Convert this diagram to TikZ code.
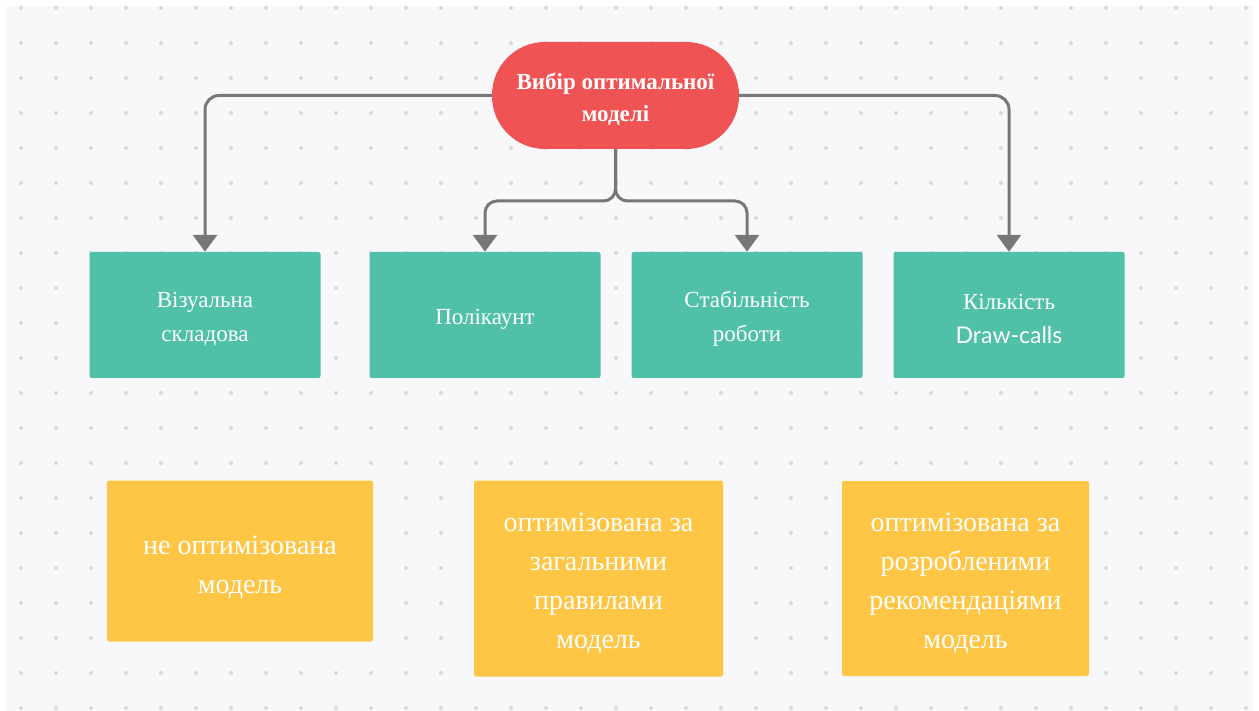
\documentclass[tikz,border=0pt]{standalone}
\usepackage{fontspec}
\setmainfont{Liberation Serif}
\newfontfamily\latofont{Lato}
\usetikzlibrary{arrows.meta}

\definecolor{paper}{HTML}{F8F8FA}
\definecolor{griddot}{HTML}{DADADE}
\definecolor{rootred}{HTML}{F05353}
\definecolor{critgreen}{HTML}{50C0A9}
\definecolor{modelyellow}{HTML}{FFC646}
\definecolor{linkgray}{HTML}{777777}

\begin{document}
\begin{tikzpicture}[
    x=1pt, y=-1pt,
    rootnode/.style={fill=rootred,rounded corners=53pt,minimum width=247pt,minimum height=107pt,inner sep=0pt},
    roottext/.style={text=white,align=center,yshift=-4pt,font=\fontsize{23}{32}\selectfont\bfseries},
    critnode/.style={fill=critgreen,rounded corners=2pt,minimum width=231pt,minimum height=126pt,inner sep=0pt},
    crittext/.style={text=white,align=center,yshift=-4pt,font=\fontsize{23}{34}\selectfont},
    modelnode/.style={fill=modelyellow,rounded corners=2pt,inner sep=0pt},
    modeltext/.style={text=white,align=center,yshift=-5pt,font=\fontsize{28}{39}\selectfont},
    link/.style={draw=linkgray,line width=3pt,rounded corners=14pt,-{Triangle[length=17pt,width=24pt]}}
    ]

    % page and dotted paper
    \fill[white] (0,0) rectangle (1259,711);
    \fill[paper] (6,6) rectangle (1253,711);
    \foreach \gx in {21,56,...,1251}
      \foreach \gy in {8,43,...,710}
        \fill[griddot] (\gx,\gy) circle (2pt);
    \useasboundingbox (0,0) rectangle (1259,711);

    \node[rootnode,label={[roottext]center:{Вибір оптимальної\\моделі}}] (root) at (615.5,95.5) {};

    \node[critnode,label={[crittext]center:{Візуальна\\складова}}] (visual) at (205,315) {};
    \node[critnode,label={[crittext]center:{Полікаунт}}] (poly) at (485,315) {};
    \node[critnode,label={[crittext]center:{Стабільність\\роботи}}] (stable) at (747,315) {};
    \node[critnode,label={[crittext]center:{Кількість\\{\latofont Draw-calls}}}] (calls) at (1009,315) {};

    \node[modelnode,minimum width=266pt,minimum height=161pt,
      label={[modeltext,yshift=-1pt]center:{не оптимізована\\модель}}] (plain) at (240,561) {};
    \node[modelnode,minimum width=249pt,minimum height=196pt,
      label={[modeltext]center:{оптимізована за\\загальними\\правилами\\модель}}] (general) at (598.5,578.5) {};
    \node[modelnode,minimum width=247pt,minimum height=195pt,
      label={[modeltext]center:{оптимізована за\\розробленими\\рекомендаціями\\модель}}] (custom) at (965.5,578.5) {};

    \coordinate (split) at (616,201);

    \draw[link] (root.west) -| (visual.north);
    \draw[link] (root.east) -| (calls.north);
    \draw[link,rounded corners=12pt] (root.south) |- (poly.north |- split) -- (poly.north);
    \draw[link,rounded corners=12pt] (root.south) |- (stable.north |- split) -- (stable.north);

\end{tikzpicture}
\end{document}
